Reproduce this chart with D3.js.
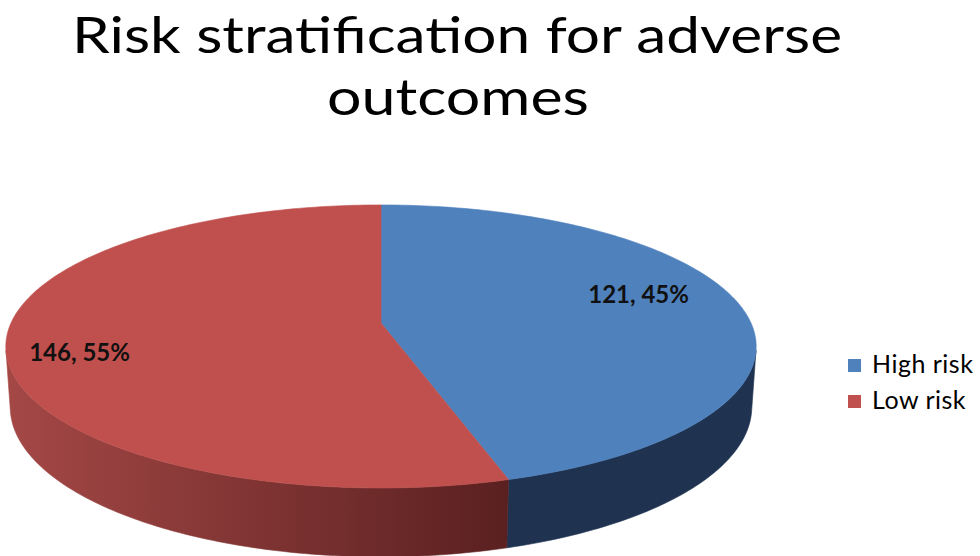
<!DOCTYPE html>
<html>
<head>
<meta charset="utf-8">
<script src="https://cdn.jsdelivr.net/npm/d3@7"></script>
<style>
  html, body { margin: 0; padding: 0; background: #fff; }
  svg { display: block; }
  text { font-family: Lato, "Open Sans", "DejaVu Sans", sans-serif; }
</style>
</head>
<body>
<svg id="chart" width="980" height="556"></svg>
<script>
// Data
const categories = ["High risk", "Low risk"];
const values = [121, 146];
const titleLines = ["Risk stratification for adverse", "outcomes"];

// Palette (top face, side wall start, side wall end)
const topColors = ["#4f81bd", "#c0504d"];
const wallStart = ["#1f3350", "#a44846"];
const wallEnd = ["#1f3350", "#5a2020"];

const svg = d3.select("#chart");

// Title
const titleSel = svg.append("g").attr("class", "title");
titleSel.append("text")
  .attr("x", 457).attr("y", 53)
  .attr("text-anchor", "middle")
  .attr("font-size", 51)
  .attr("textLength", 770).attr("lengthAdjust", "spacingAndGlyphs")
  .attr("fill", "#000")
  .text(titleLines[0]);
titleSel.append("text")
  .attr("x", 458).attr("y", 115)
  .attr("text-anchor", "middle")
  .attr("font-size", 51)
  .attr("textLength", 262).attr("lengthAdjust", "spacingAndGlyphs")
  .attr("fill", "#000")
  .text(titleLines[1]);

// 3D pie projection: unit disc tilted towards the viewer with perspective
const cam = {
  cx: 381, cy: 323,   // screen position of the pie centre
  k: 2072,            // focal scale
  D: 5.6,             // camera distance (in pie radii)
  sin: 0.372, cos: 0.928,
  depth: 0.175        // pie thickness (in pie radii)
};

function project(theta, r, h) {
  const X = r * Math.sin(theta);
  const Z = -r * Math.cos(theta);
  const v = Z * cam.sin - h * cam.cos;
  const w = cam.D - Z * cam.cos - h * cam.sin;
  return [cam.cx + cam.k * X / w, cam.cy + cam.k * v / w];
}

const pie = d3.pie().sort(null).value(d => d)
  .startAngle(0).endAngle(2 * Math.PI);
const arcs = pie(values);
const total = d3.sum(values);

function sampleAngles(a0, a1) {
  const n = Math.max(2, Math.ceil((a1 - a0) / (Math.PI / 180)));
  return d3.range(n + 1).map(i => a0 + (a1 - a0) * i / n);
}

const line = d3.line();
const defs = svg.append("defs");
const pieG = svg.append("g").attr("class", "pie");

// Visible part of the outer wall (between the silhouette tangents)
const tangent = Math.acos(1 / (cam.D * cam.cos));
const visLo = Math.PI - tangent, visHi = Math.PI + tangent;

arcs.forEach((a, i) => {
  const t0 = Math.max(a.startAngle, visLo);
  const t1 = Math.min(a.endAngle, visHi);
  if (t1 <= t0) return;
  const angles = sampleAngles(t0, t1);
  const topPts = angles.map(t => project(t, 1, 0));
  const botPts = angles.slice().reverse().map(t => project(t, 1, -cam.depth));
  const xs = topPts.map(p => p[0]);
  const gid = "wall-grad-" + i;
  const grad = defs.append("linearGradient")
    .attr("id", gid)
    .attr("gradientUnits", "userSpaceOnUse")
    .attr("x1", d3.min(xs)).attr("x2", d3.max(xs))
    .attr("y1", 0).attr("y2", 0);
  grad.append("stop").attr("offset", 0).attr("stop-color", wallStart[i]);
  grad.append("stop").attr("offset", 1).attr("stop-color", wallEnd[i]);
  pieG.append("path")
    .attr("d", line(topPts.concat(botPts)) + "Z")
    .attr("fill", `url(#${gid})`)
    .attr("stroke", `url(#${gid})`)
    .attr("stroke-width", 0.6);
});

// Top faces
arcs.forEach((a, i) => {
  const pts = [project(0, 0, 0)].concat(
    sampleAngles(a.startAngle, a.endAngle).map(t => project(t, 1, 0)));
  pieG.append("path")
    .attr("d", line(pts) + "Z")
    .attr("fill", topColors[i])
    .attr("stroke", topColors[i])
    .attr("stroke-width", 0.6);
});

// Data labels: "value, percent"
const labelShift = -7 * Math.PI / 180;
const labelRadius = [0.74, 0.82];
arcs.forEach((a, i) => {
  const mid = (a.startAngle + a.endAngle) / 2 + labelShift;
  const p = project(mid, labelRadius[i], 0);
  const pct = Math.round(values[i] / total * 100);
  pieG.append("text")
    .attr("x", p[0] + 2).attr("y", p[1] - 2)
    .attr("dy", "0.35em")
    .attr("text-anchor", "middle")
    .attr("font-size", 24)
    .attr("font-weight", "bold")
    .attr("fill", "#111")
    .text(`${values[i]}, ${pct}%`);
});

// Legend
const legend = svg.append("g").attr("class", "legend")
  .attr("transform", "translate(848,359)");
const legendStep = 36;
categories.forEach((c, i) => {
  const g = legend.append("g").attr("transform", `translate(0,${i * legendStep})`);
  g.append("rect").attr("x", 0).attr("y", 0).attr("width", 13).attr("height", 13)
    .attr("fill", topColors[i]);
  g.append("text").attr("x", 24).attr("y", 14)
    .attr("font-size", 25)
    .attr("letter-spacing", 0.5)
    .attr("fill", "#000")
    .text(c);
});
</script>
</body>
</html>
